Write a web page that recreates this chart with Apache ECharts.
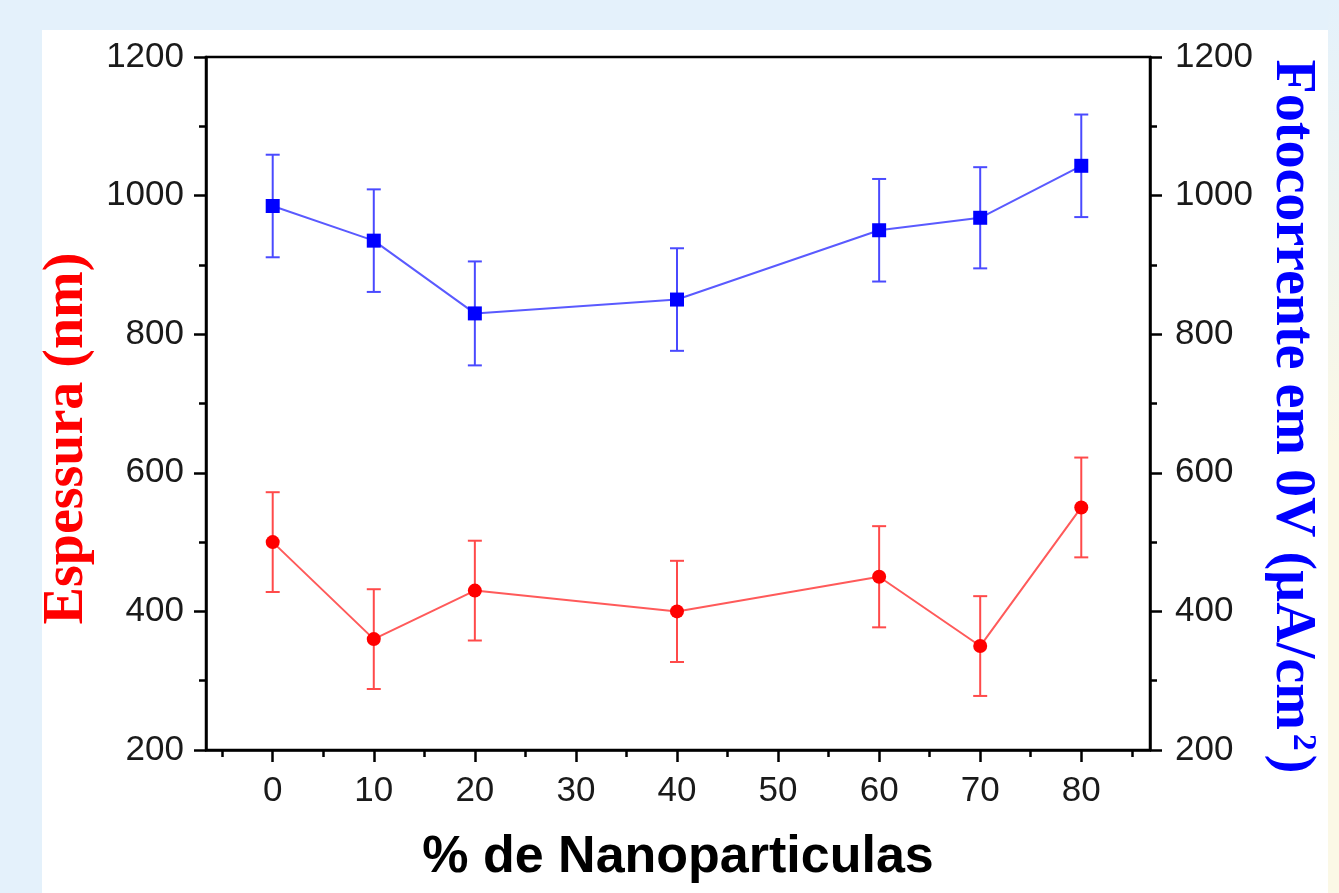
<!DOCTYPE html>
<html>
<head>
<meta charset="utf-8">
<script src="https://cdn.jsdelivr.net/npm/echarts@6/dist/echarts.min.js"></script>
<style>
html, body { margin: 0; padding: 0; background: #e4f1fb; }
#main { width: 1339px; height: 893px; }
</style>
</head>
<body>
<div id="main"></div>
<script>
// dados
var nanoPct = [0, 10, 20, 40, 60, 70, 80];
var espessura = [500, 360, 430, 400, 450, 350, 550];
var espessuraErr = [72, 72, 72, 73, 73, 72, 72];
var fotocorrente = [985, 935, 830, 850, 950, 968, 1043];
var fotocorrenteErr = [74, 74, 75, 74, 74, 73, 74];

var xMajor = [0, 10, 20, 30, 40, 50, 60, 70, 80];
var xMinor = [-5, 5, 15, 25, 35, 45, 55, 65, 75, 85];

function pairs(xs, ys) {
    var res = [];
    for (var i = 0; i < xs.length; i++) {
        res.push([xs[i], ys[i]]);
    }
    return res;
}

function errData(xs, ys, es) {
    var res = [];
    for (var i = 0; i < xs.length; i++) {
        res.push([xs[i], ys[i], es[i]]);
    }
    return res;
}

function errorBar(color) {
    return function(params, api) {
        var x = api.value(0), y = api.value(1), e = api.value(2);
        var top = api.coord([x, y + e]);
        var bot = api.coord([x, y - e]);
        var w = 7;
        var style = { stroke: color, lineWidth: 2 };
        return {
            type: 'group',
            children: [
                { type: 'line', shape: { x1: top[0], y1: top[1], x2: bot[0], y2: bot[1] }, style: style },
                { type: 'line', shape: { x1: top[0] - w, y1: top[1], x2: top[0] + w, y2: top[1] }, style: style },
                { type: 'line', shape: { x1: bot[0] - w, y1: bot[1], x2: bot[0] + w, y2: bot[1] }, style: style }
            ]
        };
    };
}

var myChart = echarts.init(document.getElementById('main'));

var labelStyle = {
    fontFamily: 'Liberation Sans',
    fontSize: 35,
    color: '#1a1a1a',
    formatter: function(v) { return String(v); }
};

var option = {
    animation: false,
    backgroundColor: '#e4f1fb',
    graphic: [
        {
            type: 'rect',
            z: -10,
            shape: { x: 1328, y: 0, width: 11, height: 893 },
            style: {
                fill: new echarts.graphic.LinearGradient(0, 0, 0, 1, [
                    { offset: 0, color: '#e4f1fb' },
                    { offset: 0.5, color: '#fbf8e6' },
                    { offset: 1, color: '#fbf8e6' }
                ])
            }
        },
        {
            type: 'rect',
            z: -10,
            shape: { x: 42, y: 30, width: 1286, height: 863 },
            style: { fill: '#ffffff' }
        }
    ],
    grid: {
        left: 206,
        right: 189,
        top: 57,
        bottom: 143,
        show: true,
        borderColor: '#000',
        borderWidth: 2.5,
        backgroundColor: 'transparent'
    },
    xAxis: [{
        type: 'value',
        min: -6.6,
        max: 86.8,
        name: '% de Nanoparticulas',
        nameLocation: 'middle',
        nameGap: 82,
        nameTextStyle: {
            fontFamily: 'Liberation Sans',
            fontWeight: 'bold',
            fontSize: 52,
            color: '#000'
        },
        axisLine: { onZero: false, lineStyle: { color: '#000', width: 2.5 } },
        axisTick: {
            customValues: xMajor,
            length: 12,
            lineStyle: { color: '#000', width: 2.5 }
        },
        axisLabel: Object.assign({ customValues: xMajor, margin: 24 }, labelStyle),
        splitLine: { show: false }
    }, {
        type: 'value',
        min: -6.6,
        max: 86.8,
        position: 'bottom',
        axisLine: { show: false, onZero: false },
        axisTick: {
            customValues: xMinor,
            length: 7,
            lineStyle: { color: '#000', width: 2.5 }
        },
        axisLabel: { show: false },
        splitLine: { show: false }
    }],
    yAxis: [{
        type: 'value',
        min: 200,
        max: 1200,
        interval: 200,
        position: 'left',
        name: 'Espessura (nm)',
        nameLocation: 'middle',
        nameGap: 72,
        nameTextStyle: {
            fontFamily: 'Liberation Serif',
            fontWeight: 'bold',
            fontSize: 56,
            color: '#ff0000',
            padding: [0, 70, 0, 0]
        },
        axisLine: { show: true, onZero: false, lineStyle: { color: '#000', width: 2.5 } },
        axisTick: { show: true, length: 12, lineStyle: { color: '#000', width: 2.5 } },
        minorTick: { show: true, splitNumber: 2, length: 7, lineStyle: { color: '#000', width: 2.5 } },
        axisLabel: Object.assign({ margin: 22 }, labelStyle),
        splitLine: { show: false }
    }, {
        type: 'value',
        min: 200,
        max: 1200,
        interval: 200,
        position: 'right',
        name: 'Fotocorrente em 0V (µA/cm{sup|2})',
        nameLocation: 'middle',
        nameRotate: -90,
        nameGap: 108,
        nameTextStyle: {
            fontFamily: 'Liberation Serif',
            fontWeight: 'bold',
            fontSize: 56,
            color: '#0000ff',
            padding: [0, 0, 0, 26],
            rich: {
                sup: {
                    fontFamily: 'Liberation Serif',
                    fontSize: 34,
                    color: '#0000ff',
                    verticalAlign: 'top',
                    padding: [0, 4, 18, 4]
                }
            }
        },
        axisLine: { show: true, onZero: false, lineStyle: { color: '#000', width: 2.5 } },
        axisTick: { show: true, length: 12, lineStyle: { color: '#000', width: 2.5 } },
        minorTick: { show: true, splitNumber: 2, length: 7, lineStyle: { color: '#000', width: 2.5 } },
        axisLabel: Object.assign({ margin: 25 }, labelStyle),
        splitLine: { show: false }
    }],
    series: [{
        name: 'Espessura erro',
        type: 'custom',
        xAxisIndex: 0,
        yAxisIndex: 0,
        renderItem: errorBar('#ff4a4a'),
        data: errData(nanoPct, espessura, espessuraErr),
        z: 2
    }, {
        name: 'Espessura',
        type: 'line',
        xAxisIndex: 0,
        yAxisIndex: 0,
        data: pairs(nanoPct, espessura),
        symbol: 'circle',
        symbolSize: 14,
        lineStyle: { color: '#ff5a5a', width: 2 },
        itemStyle: { color: '#ff0000' },
        z: 3
    }, {
        name: 'Fotocorrente erro',
        type: 'custom',
        xAxisIndex: 0,
        yAxisIndex: 1,
        renderItem: errorBar('#4a4aff'),
        data: errData(nanoPct, fotocorrente, fotocorrenteErr),
        z: 2
    }, {
        name: 'Fotocorrente',
        type: 'line',
        xAxisIndex: 0,
        yAxisIndex: 1,
        data: pairs(nanoPct, fotocorrente),
        symbol: 'rect',
        symbolSize: 14,
        lineStyle: { color: '#5a5aff', width: 2 },
        itemStyle: { color: '#0000ff' },
        z: 3
    }]
};

myChart.setOption(option);
</script>
</body>
</html>
